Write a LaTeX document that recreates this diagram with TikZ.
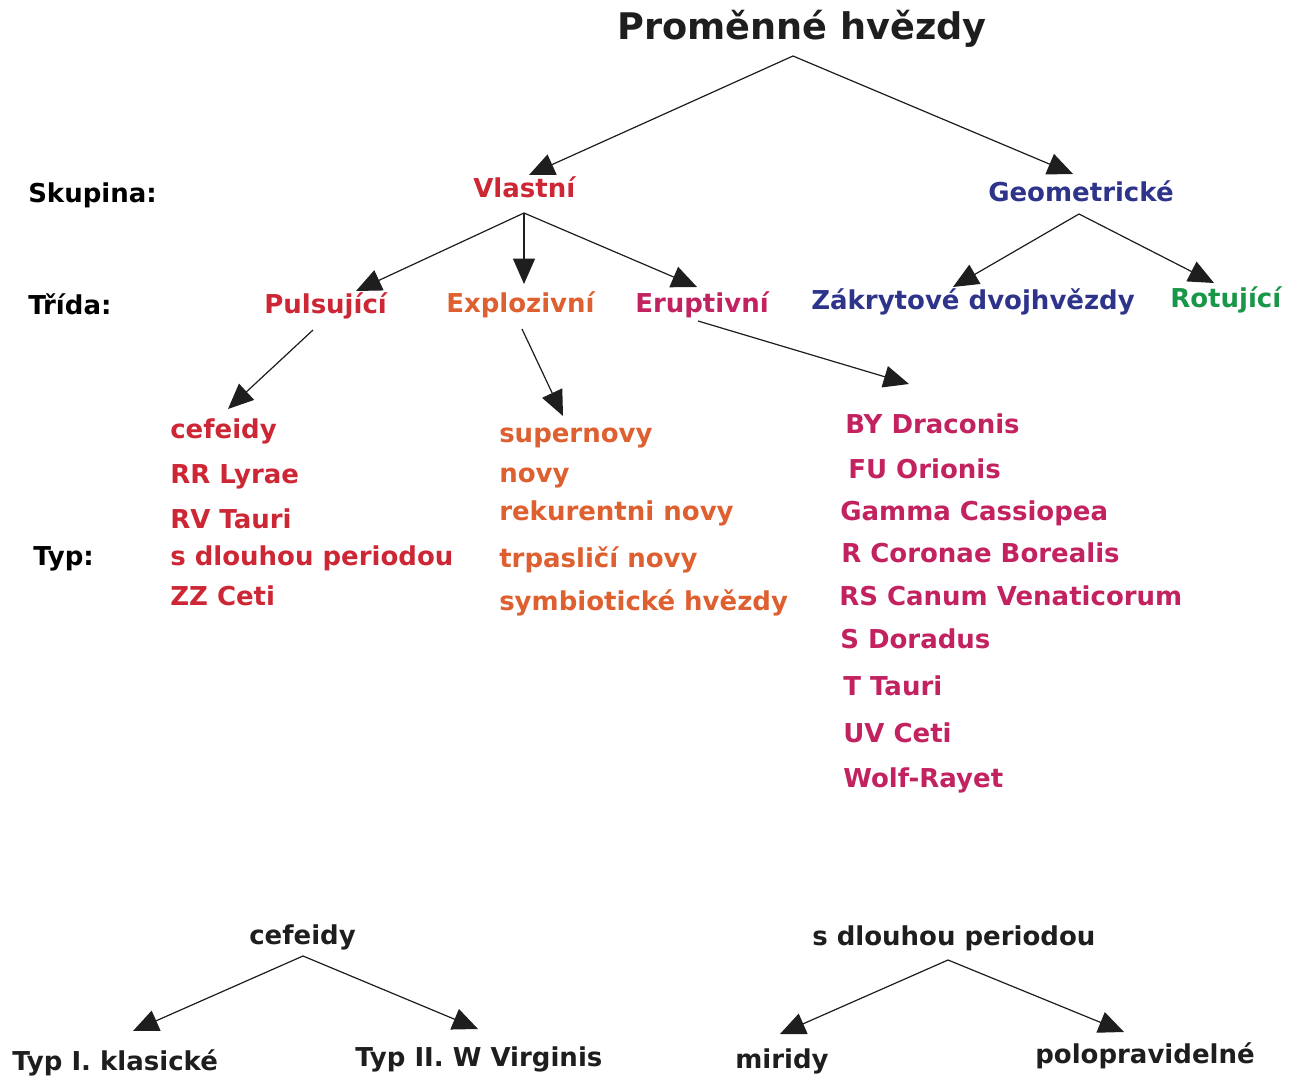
\documentclass[tikz,border=0pt]{standalone}
\usepackage{fontspec}
\setmainfont{DejaVu Sans}
\usetikzlibrary{arrows.meta}
\usepackage{xcolor}
\definecolor{inkdark}{RGB}{30,30,30}
\definecolor{vlred}{RGB}{205,38,52}
\definecolor{exorange}{RGB}{222,96,48}
\definecolor{ermagenta}{RGB}{194,34,96}
\definecolor{geoblue}{RGB}{46,52,138}
\definecolor{rotgreen}{RGB}{26,150,72}

\begin{document}
\begin{tikzpicture}[
                x=0.75pt, y=-0.75pt,
                txt/.style={anchor=base west, inner sep=0pt, font=\fontsize{19.5}{22}\selectfont\bfseries},
                headline/.style={anchor=base west, inner sep=0pt, font=\fontsize{27.5}{32}\selectfont\bfseries, text=inkdark},
                rowname/.style={txt, text=black},
                pulse/.style={txt, text=vlred},
                explo/.style={txt, text=exorange},
                erupt/.style={txt, text=ermagenta},
                arrow/.style={-{Triangle[length=19pt, width=16.5pt]}, line width=0.9pt, draw=inkdark, fill=inkdark}
            ]
            \useasboundingbox (0,0) rectangle (1293,1077);

            % Title
            \node[headline] (stars) at (617,40) {Proměnné hvězdy};

            % Row names
            \node[rowname] (skupina) at (28,203) {Skupina:};
            \node[rowname] (trida) at (28,314) {Třída:};
            \node[rowname] (typ) at (33,565) {Typ:};

            % Groups
            \node[pulse] (vlastni) at (473,198) {Vlastní};
            \node[txt, text=geoblue] (geom) at (988,202) {Geometrické};

            % Classes
            \node[pulse] (puls) at (264,313) {Pulsující};
            \node[explo] (explo) at (446,312) {Explozivní};
            \node[erupt] (erupt) at (635,312) {Eruptivní};
            \node[txt, text=geoblue] (zakryt) at (811,310) {Zákrytové dvojhvězdy};
            \node[txt, text=rotgreen] (rotuj) at (1170,307) {Rotující};

            % Types: pulsating
            \node[pulse] (cef) at (170,438) {cefeidy};
            \node[pulse] (rrlyr) at (170,483) {RR Lyrae};
            \node[pulse] (rvtau) at (170,528) {RV Tauri};
            \node[pulse] (longp) at (170,565) {s dlouhou periodou};
            \node[pulse] (zzceti) at (170,605) {ZZ Ceti};

            % Types: explosive
            \node[explo] (snova) at (499,442) {supernovy};
            \node[explo] (nova) at (499,482) {novy};
            \node[explo] (rnova) at (499,520) {rekurentni novy};
            \node[explo] (dnova) at (499,567) {trpasličí novy};
            \node[explo] (symb) at (499,610) {symbiotické hvězdy};

            % Types: eruptive
            \node[erupt] (bydra) at (845,433) {BY Draconis};
            \node[erupt] (fuori) at (848,478) {FU Orionis};
            \node[erupt] (gcas) at (840,520) {Gamma Cassiopea};
            \node[erupt] (rcrb) at (841,562) {R Coronae Borealis};
            \node[erupt] (rscvn) at (839,605) {RS Canum Venaticorum};
            \node[erupt] (sdor) at (840,648) {S Doradus};
            \node[erupt] (ttau) at (843,695) {T Tauri};
            \node[erupt] (uvceti) at (843,742) {UV Ceti};
            \node[erupt] (wr) at (843,787) {Wolf-Rayet};

            % Subtypes
            \node[txt, text=inkdark] (cefb) at (249,944) {cefeidy};
            \node[txt, text=inkdark] (typone) at (12,1070) {Typ I. klasické};
            \node[txt, text=inkdark] (typtwo) at (355,1066) {Typ II. W Virginis};
            \node[txt, text=inkdark] (longb) at (812,945) {s dlouhou periodou};
            \node[txt, text=inkdark] (mira) at (735,1068) {miridy};
            \node[txt, text=inkdark] (semireg) at (1035,1063) {polopravidelné};

            % Arrow ends
            \coordinate (stars-out) at (793,56);
            \coordinate (vlastni-in) at (529,175);
            \coordinate (geom-in) at (1073,174);
            \coordinate (vlastni-out) at (524,213);
            \coordinate (puls-in) at (356,291);
            \coordinate (explo-in) at (524,284);
            \coordinate (erupt-in) at (697,287);
            \coordinate (geom-out) at (1079,214);
            \coordinate (zakryt-in) at (953,287);
            \coordinate (rotuj-in) at (1214,283);
            \coordinate (puls-out) at (313,330);
            \coordinate (cef-in) at (228,409);
            \coordinate (explo-out) at (522,329);
            \coordinate (snova-in) at (563,416);
            \coordinate (erupt-out) at (698,321);
            \coordinate (bydra-in) at (909,384);
            \coordinate (cefb-out) at (303,956);
            \coordinate (typone-in) at (133,1031);
            \coordinate (typtwo-in) at (478,1029);
            \coordinate (longb-out) at (948,960);
            \coordinate (mira-in) at (780,1034);
            \coordinate (semireg-in) at (1124,1032);

            % Arrows
            \draw[arrow] (stars-out) -- (vlastni-in);
            \draw[arrow] (stars-out) -- (geom-in);
            \draw[arrow] (vlastni-out) -- (puls-in);
            \draw[arrow] (vlastni-out) -- (explo-in);
            \draw[arrow] (vlastni-out) -- (erupt-in);
            \draw[arrow] (geom-out) -- (zakryt-in);
            \draw[arrow] (geom-out) -- (rotuj-in);
            \draw[arrow] (puls-out) -- (cef-in);
            \draw[arrow] (explo-out) -- (snova-in);
            \draw[arrow] (erupt-out) -- (bydra-in);
            \draw[arrow] (cefb-out) -- (typone-in);
            \draw[arrow] (cefb-out) -- (typtwo-in);
            \draw[arrow] (longb-out) -- (mira-in);
            \draw[arrow] (longb-out) -- (semireg-in);
        \end{tikzpicture}
\end{document}
